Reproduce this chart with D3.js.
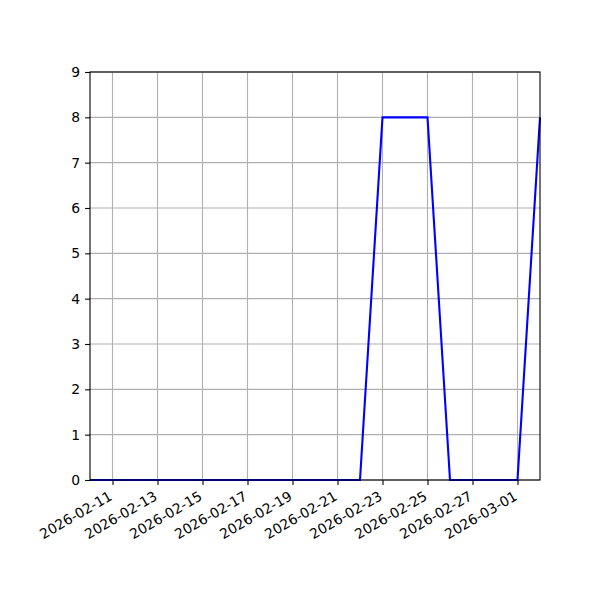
<!DOCTYPE html>
<html>
<head>
<meta charset="utf-8">
<script src="https://cdn.jsdelivr.net/npm/d3@7"></script>
<style>
  body { margin: 0; background: #fff; }
  text { font-family: "DejaVu Sans", sans-serif; }
</style>
</head>
<body>
<svg id="chart" width="600" height="600"></svg>
<script>
// data: one value per day
let dates = ['2026-02-10','2026-02-11','2026-02-12','2026-02-13','2026-02-14','2026-02-15',
             '2026-02-16','2026-02-17','2026-02-18','2026-02-19','2026-02-20','2026-02-21',
             '2026-02-22','2026-02-23','2026-02-24','2026-02-25','2026-02-26','2026-02-27',
             '2026-02-28','2026-03-01','2026-03-02'];
let values = [0,0,0,0,0,0,0,0,0,0,0,0,0,8,8,8,0,0,0,0,8];
let xTicks = ['2026-02-11','2026-02-13','2026-02-15','2026-02-17','2026-02-19',
              '2026-02-21','2026-02-23','2026-02-25','2026-02-27','2026-03-01'];
let yTicks = [0,1,2,3,4,5,6,7,8,9];

let parse = d3.utcParse('%Y-%m-%d');
let fmt = d3.utcFormat('%Y-%m-%d');
let padding = {'left': 90, 'right': 60, 'top': 72, 'bottom': 120};
let width = 600, height = 600;

let svg = d3.select('#chart');
let points = dates.map((d, i) => ({'date': parse(d), 'value': values[i]}));

let xScale = d3.scaleUtc()
    .domain([parse(dates[0]), parse(dates[dates.length - 1])])
    .range([padding.left, width - padding.right]);
let yScale = d3.scaleLinear()
    .domain([0, 9])
    .range([height - padding.bottom, padding.top]);

// grid
let grid = svg.append('g');
grid.selectAll('line.gx')
    .data(xTicks)
    .join('line')
    .attr('x1', d => xScale(parse(d))).attr('x2', d => xScale(parse(d)))
    .attr('y1', padding.top).attr('y2', height - padding.bottom)
    .attr('stroke', '#b0b0b0').attr('stroke-width', 1.1);
grid.selectAll('line.gy')
    .data(yTicks)
    .join('line')
    .attr('x1', padding.left).attr('x2', width - padding.right)
    .attr('y1', d => yScale(d)).attr('y2', d => yScale(d))
    .attr('stroke', '#b0b0b0').attr('stroke-width', 1.1);

// line
let line = d3.line()
    .x(d => xScale(d.date))
    .y(d => yScale(d.value));
svg.append('path')
    .datum(points)
    .attr('d', line)
    .attr('fill', 'none')
    .attr('stroke', '#0000ff')
    .attr('stroke-width', 2.1);

// axes
let xAxis = svg.append('g')
    .attr('transform', `translate(0, ${height - padding.bottom})`)
    .call(d3.axisBottom(xScale)
        .tickValues(xTicks.map(parse))
        .tickFormat(fmt)
        .tickSize(4.9)
        .tickSizeOuter(0));
xAxis.selectAll('text')
    .attr('font-size', 13.9)
    .attr('fill', '#000')
    .attr('text-anchor', 'end')
    .attr('dy', null)
    .attr('y', 0)
    .attr('transform', 'translate(-5, 10) rotate(-30)')
    .attr('dominant-baseline', 'hanging');

let yAxis = svg.append('g')
    .attr('transform', `translate(${padding.left}, 0)`)
    .call(d3.axisLeft(yScale)
        .tickValues(yTicks)
        .tickSize(4.9)
        .tickPadding(4.9)
        .tickSizeOuter(0));
yAxis.selectAll('text')
    .attr('font-size', 13.9)
    .attr('fill', '#000');

svg.selectAll('.domain').remove();
svg.selectAll('.tick line').attr('stroke', '#000').attr('stroke-width', 1.1);

// frame
svg.append('rect')
    .attr('x', padding.left).attr('y', padding.top)
    .attr('width', width - padding.left - padding.right)
    .attr('height', height - padding.top - padding.bottom)
    .attr('fill', 'none')
    .attr('stroke', '#000')
    .attr('stroke-width', 1.1);
</script>
</body>
</html>
